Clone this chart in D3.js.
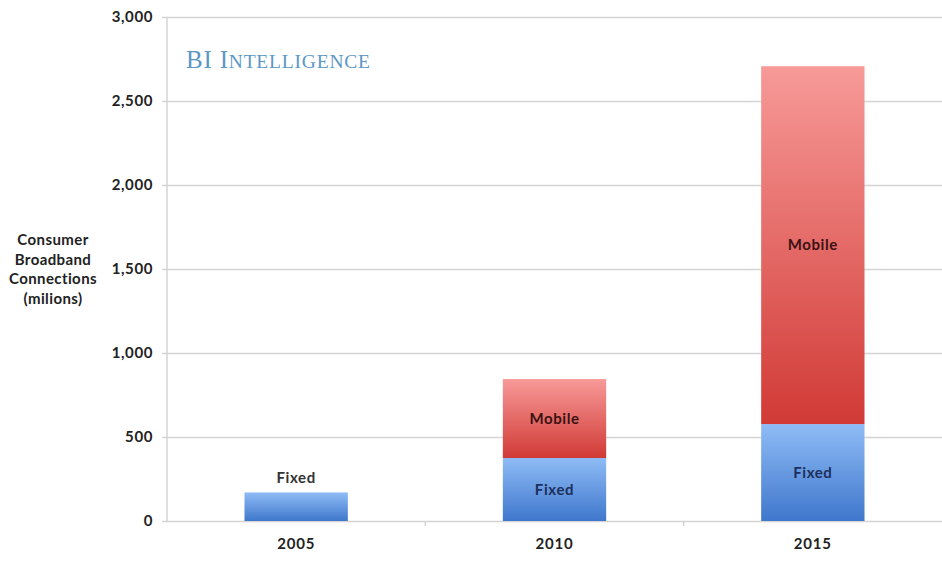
<!DOCTYPE html>
<html>
<head>
<meta charset="utf-8">
<script src="https://cdn.jsdelivr.net/npm/d3@7"></script>
<style>
  html, body { margin: 0; padding: 0; background: #fff; }
  svg { display: block; }
  .sans { font-family: Lato, "Open Sans", sans-serif; font-weight: 700; }
  .brand { font-family: "Liberation Serif", "DejaVu Serif", serif; }
</style>
</head>
<body>
<svg id="chart" width="942" height="563"></svg>
<script>
// Consumer broadband connections (millions) by year
const years = ["2005", "2010", "2015"];
const fixedValues = [170, 375, 577];
const mobileValues = [0, 470, 2130];
const yTicks = [0, 500, 1000, 1500, 2000, 2500, 3000];
const yTitleLines = ["Consumer", "Broadband", "Connections", "(milions)"];

const svg = d3.select("#chart");
const W = 942, H = 563;
const margin = { top: 17, right: 0, bottom: 42, left: 167 };

const x = d3.scaleBand()
  .domain(years)
  .range([margin.left, W - margin.right])
  .paddingInner(0.6)
  .paddingOuter(0.3);

const y = d3.scaleLinear()
  .domain([0, 3000])
  .range([H - margin.bottom, margin.top]);

// gradients for the two series
const defs = svg.append("defs");
function grad(id, top, bottom) {
  const g = defs.append("linearGradient").attr("id", id)
    .attr("x1", 0).attr("y1", 0).attr("x2", 0).attr("y2", 1);
  g.append("stop").attr("offset", "0%").attr("stop-color", top);
  g.append("stop").attr("offset", "100%").attr("stop-color", bottom);
}
grad("gFixed", "#8fbcf6", "#3f77cc");
grad("gMobile", "#f79a98", "#d13a36");

// gridlines + y axis labels
const yAxis = d3.axisLeft(y)
  .tickValues(yTicks)
  .tickFormat(d3.format(","))
  .tickSize(-(W - margin.left - margin.right))
  .tickPadding(14);

const gy = svg.append("g")
  .attr("transform", `translate(${margin.left},0)`)
  .call(yAxis);
gy.select(".domain").remove();
gy.selectAll(".tick line").attr("stroke", "#d4d4d4").attr("stroke-width", 1.5).attr("x1", -5);
gy.selectAll(".tick text")
  .attr("class", "sans")
  .attr("fill", "#222")
  .attr("font-size", 15)
  .attr("letter-spacing", 0.6);

// vertical axis line
svg.append("line")
  .attr("x1", margin.left).attr("x2", margin.left)
  .attr("y1", y(3000)).attr("y2", y(0))
  .attr("stroke", "#d4d4d4").attr("stroke-width", 1.5);

// category separator ticks on the x axis
const step = x.step();
years.slice(0, -1).forEach((yr) => {
  const xb = x(yr) + x.bandwidth() + (step - x.bandwidth()) / 2;
  svg.append("line")
    .attr("x1", xb).attr("x2", xb)
    .attr("y1", y(0)).attr("y2", y(0) + 5)
    .attr("stroke", "#d4d4d4").attr("stroke-width", 1.5);
});

// x axis labels
const gx = svg.append("g")
  .attr("transform", `translate(0,${y(0)})`)
  .call(d3.axisBottom(x).tickSize(0).tickPadding(17));
gx.select(".domain").remove();
gx.selectAll(".tick text")
  .attr("class", "sans")
  .attr("fill", "#222")
  .attr("font-size", 15)
  .attr("letter-spacing", 0.8);

// stacked bars
const rows = years.map((yr, i) => ({ year: yr, fixed: fixedValues[i], mobile: mobileValues[i] }));
const stack = d3.stack().keys(["fixed", "mobile"])(rows);
const fills = { fixed: "url(#gFixed)", mobile: "url(#gMobile)" };

stack.forEach((layer) => {
  svg.append("g").selectAll("rect")
    .data(layer.filter((d) => d[1] > d[0]))
    .join("rect")
    .attr("x", (d) => x(d.data.year))
    .attr("width", x.bandwidth())
    .attr("y", (d) => y(d[1]))
    .attr("height", (d) => y(d[0]) - y(d[1]))
    .attr("fill", fills[layer.key]);
});

// segment labels
const labelColor = { fixed: "#1d2f5c", mobile: "#3a1212" };
const labelText = { fixed: "Fixed", mobile: "Mobile" };
stack.forEach((layer) => {
  layer.forEach((d) => {
    if (d[1] <= d[0]) return;
    const cx = x(d.data.year) + x.bandwidth() / 2;
    const hasMobile = d.data.mobile > 0;
    let cy, color = labelColor[layer.key];
    if (layer.key === "fixed" && !hasMobile) {
      cy = y(d[1]) - 9; // label above a single-segment bar
      color = "#333";
    } else {
      cy = (y(d[0]) + y(d[1])) / 2 + 5;
    }
    svg.append("text")
      .attr("class", "sans")
      .attr("x", cx).attr("y", cy)
      .attr("text-anchor", "middle")
      .attr("font-size", 15)
      .attr("letter-spacing", 0.6)
      .attr("fill", color)
      .text(labelText[layer.key]);
  });
});

// y axis title
const yt = svg.append("text")
  .attr("class", "sans")
  .attr("text-anchor", "middle")
  .attr("font-size", 15)
  .attr("letter-spacing", 0.4)
  .attr("fill", "#222");
yTitleLines.forEach((line, i) => {
  yt.append("tspan").attr("x", 53).attr("y", 245 + i * 19.5).text(line);
});

// brand mark
const brand = svg.append("text")
  .attr("class", "brand")
  .attr("x", 186).attr("y", 68)
  .attr("fill", "#5c97c6")
  .attr("letter-spacing", 0.8);
brand.append("tspan").attr("font-size", 25).text("BI I");
brand.append("tspan").attr("font-size", 19.5).text("NTELLIGENCE");
</script>
</body>
</html>
